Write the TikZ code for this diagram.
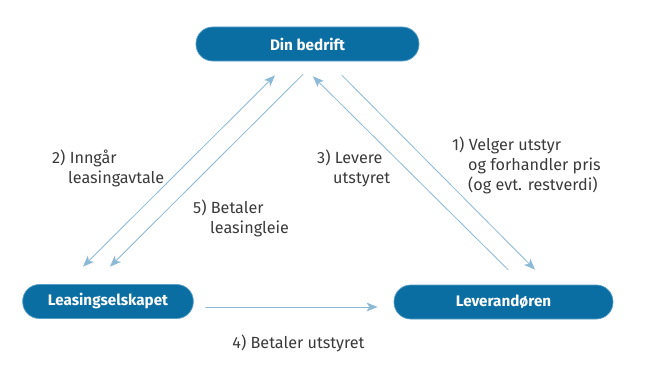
\documentclass[tikz,border=0pt]{standalone}
\usepackage{fontspec}
\setmainfont{Fira Sans}
\usepackage{tikz}
\usetikzlibrary{arrows.meta,calc,positioning}

\definecolor{partblue}{HTML}{0A6EA3}
\definecolor{partedge}{HTML}{5A9FC6}
\definecolor{flowblue}{HTML}{8CB9D5}
\definecolor{lbltext}{HTML}{3A3A3A}

\begin{document}
\begin{tikzpicture}[
  x=0.03cm, y=-0.03cm,
  line cap=round, line join=round,
  >={Stealth[length=9.5pt, width=7.5pt, inset=2.5pt]},
  part/.style={
    rectangle, rounded corners=0.5cm,
    minimum height=1.02cm, inner sep=0pt,
    align=center, line width=0.6pt,
    draw=partedge, fill=partblue, text=white,
    font=\fontsize{13}{15}\selectfont\bfseries
  },
  flow/.style={->, line width=0.7pt, draw=flowblue},
  biflow/.style={flow, <->},
  flowlbl/.style={inner sep=0pt, align=left, text=lbltext,
    font=\fontsize{13.8}{17}\selectfont}
]
\useasboundingbox (0,0) rectangle (646,368);

% =========================================================================
% Aktørene
% =========================================================================
\node[part, minimum width=6.69cm] (din)     at (307.5, 44)  {Din bedrift};
\node[part, minimum width=5.12cm] (leasing) at (108, 301.5) {Leasingselskapet};
\node[part, minimum width=6.57cm] (lever)   at (503.5, 302) {Leverandøren};

% =========================================================================
% Flyter
% =========================================================================
% 1) Din bedrift -> Leverandøren
\draw[flow] ($(din.south)+(34.5,14)$) -- ($(lever.north)+(31.5,-15)$);

% 2) Din bedrift <-> Leasingselskapet
\draw[biflow] ($(din.south)+(-32.5,14)$) -- ($(leasing.north)+(-25,-17.5)$);

% 3) Leverandøren -> Din bedrift
\draw[flow] ($(lever.north)+(4.5,-15)$) -- ($(din.south)+(5.5,15)$);

% 4) Leasingselskapet -> Leverandøren
\draw[flow] ($(leasing.east)+(12,5.5)$) -- ($(lever.west)+(-16,5)$);

% 5) Din bedrift -> Leasingselskapet
\draw[flow] ($(din.south)+(-4.5,13)$) -- ($(leasing.north)+(2,-17.5)$);

% =========================================================================
% Tekster (base = siste linje)
% =========================================================================
\node[flowlbl, anchor=base west] (lbl1) at (452, 190)
  {1) Velger utstyr\\ \hspace*{0.48cm}og forhandler pris\\ \hspace*{0.48cm}(og evt. restverdi)};
\node[flowlbl, anchor=base west] (lbl2) at (52, 183)
  {2) Inngår\\ \hspace*{0.48cm}leasingavtale};
\node[flowlbl, anchor=base west] (lbl3) at (317, 183)
  {3) Levere\\ \hspace*{0.48cm}utstyret};
\node[flowlbl, anchor=base] (lbl4) at (298.5, 348) {4) Betaler utstyret};
\node[flowlbl, anchor=base west] (lbl5) at (193, 233)
  {5) Betaler\\ \hspace*{0.51cm}leasingleie};

\end{tikzpicture}
\end{document}
